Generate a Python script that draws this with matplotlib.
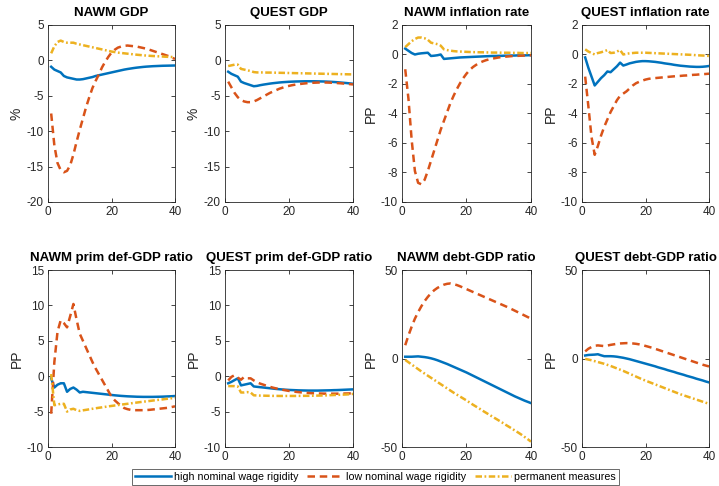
import matplotlib
matplotlib.use("Agg")
import matplotlib.pyplot as plt
import numpy as np

plt.rcParams["font.family"] = ["Liberation Sans", "DejaVu Sans"]
plt.rcParams["axes.unicode_minus"] = False

quarters = list(range(1, 41))

series_names = ["high nominal wage rigidity", "low nominal wage rigidity", "permanent measures"]

panel_titles = ["NAWM GDP", "QUEST GDP", "NAWM inflation rate", "QUEST inflation rate",
                "NAWM prim def-GDP ratio", "QUEST prim def-GDP ratio",
                "NAWM debt-GDP ratio", "QUEST debt-GDP ratio"]
panel_ylabels = ["%", "%", "PP", "PP", "PP", "PP", "PP", "PP"]
panel_yticks = [[-20, -15, -10, -5, 0, 5], [-20, -15, -10, -5, 0, 5],
                [-10, -8, -6, -4, -2, 0, 2], [-10, -8, -6, -4, -2, 0, 2],
                [-10, -5, 0, 5, 10, 15], [-10, -5, 0, 5, 10, 15],
                [-50, 0, 50], [-50, 0, 50]]
xticks = [0, 20, 40]

# NAWM GDP
nawm_gdp_high = [-0.9, -1.3, -1.5, -1.7, -2.2, -2.4, -2.5, -2.6, -2.7, -2.7, -2.65, -2.55, -2.45, -2.35, -2.2,
                 -2.1, -2.0, -1.9, -1.8, -1.7, -1.6, -1.5, -1.4, -1.3, -1.22, -1.15, -1.08, -1.02, -0.97, -0.92,
                 -0.88, -0.85, -0.82, -0.8, -0.78, -0.76, -0.75, -0.74, -0.73, -0.72]
nawm_gdp_low = [-7.5, -12.0, -14.5, -15.5, -15.8, -15.6, -14.8, -13.3, -11.5, -9.8, -8.2, -6.6, -5.2, -3.9, -2.9,
                -2.0, -1.0, -0.2, 0.5, 1.1, 1.5, 1.8, 1.95, 2.05, 2.1, 2.05, 2.0, 1.95, 1.85, 1.75,
                1.65, 1.5, 1.35, 1.2, 1.05, 0.9, 0.75, 0.6, 0.4, 0.2]
nawm_gdp_perm = [1.0, 2.0, 2.6, 2.8, 2.6, 2.5, 2.5, 2.5, 2.35, 2.25, 2.15, 2.05, 1.95, 1.85, 1.75,
                 1.65, 1.55, 1.45, 1.35, 1.25, 1.18, 1.1, 1.05, 1.0, 0.95, 0.9, 0.85, 0.8, 0.76, 0.72,
                 0.68, 0.65, 0.62, 0.6, 0.57, 0.55, 0.52, 0.5, 0.48, 0.45]

# QUEST GDP
quest_gdp_high = [-1.6, -1.9, -2.1, -2.3, -3.0, -3.2, -3.35, -3.5, -3.65, -3.6, -3.5, -3.42, -3.35, -3.28, -3.22,
                  -3.17, -3.12, -3.08, -3.05, -3.02, -3.0, -2.98, -2.97, -2.96, -2.95, -2.95, -2.95, -2.95, -2.96,
                  -2.97, -2.98, -3.0, -3.02, -3.05, -3.08, -3.12, -3.16, -3.2, -3.25, -3.3]
quest_gdp_low = [-3.0, -3.8, -4.6, -5.2, -5.6, -5.8, -5.9, -5.9, -5.8, -5.6, -5.35, -5.1, -4.85, -4.6, -4.4,
                 -4.2, -4.0, -3.85, -3.7, -3.6, -3.5, -3.42, -3.36, -3.3, -3.25, -3.2, -3.17, -3.15, -3.13, -3.12,
                 -3.12, -3.13, -3.15, -3.17, -3.2, -3.23, -3.27, -3.3, -3.35, -3.4]
quest_gdp_perm = [-0.8, -0.7, -0.6, -0.6, -1.2, -1.3, -1.4, -1.5, -1.65, -1.7, -1.7, -1.7, -1.72, -1.72, -1.73,
                  -1.74, -1.75, -1.76, -1.77, -1.78, -1.79, -1.8, -1.81, -1.82, -1.83, -1.84, -1.85, -1.86, -1.87,
                  -1.88, -1.89, -1.9, -1.91, -1.92, -1.93, -1.94, -1.95, -1.96, -1.97, -1.98]

# NAWM inflation rate
nawm_inf_high = [0.4, 0.25, 0.1, 0.0, 0.05, 0.08, 0.1, 0.12, -0.1, -0.08, -0.05, 0.0, -0.3, -0.28, -0.26,
                 -0.24, -0.22, -0.2, -0.19, -0.18, -0.17, -0.16, -0.15, -0.14, -0.13, -0.12, -0.11, -0.1, -0.1,
                 -0.09, -0.09, -0.08, -0.08, -0.07, -0.07, -0.06, -0.06, -0.06, -0.05, -0.05]
nawm_inf_low = [-1.0, -3.0, -5.8, -7.9, -8.7, -8.8, -8.5, -7.9, -7.2, -6.5, -5.8, -5.1, -4.5, -3.9, -3.3,
                -2.8, -2.35, -1.95, -1.6, -1.3, -1.05, -0.85, -0.7, -0.57, -0.47, -0.39, -0.33, -0.28, -0.24, -0.2,
                -0.17, -0.15, -0.13, -0.11, -0.1, -0.09, -0.08, -0.07, -0.06, -0.05]
nawm_inf_perm = [0.5, 0.7, 0.9, 1.05, 1.15, 1.15, 1.1, 1.0, 0.8, 0.75, 0.7, 0.6, 0.35, 0.3, 0.26,
                 0.23, 0.21, 0.2, 0.19, 0.18, 0.17, 0.16, 0.16, 0.15, 0.15, 0.14, 0.14, 0.13, 0.13, 0.13,
                 0.12, 0.12, 0.12, 0.11, 0.11, 0.11, 0.1, 0.1, 0.1, 0.1]

# QUEST inflation rate
quest_inf_high = [-0.2, -0.9, -1.5, -2.1, -1.85, -1.6, -1.4, -1.15, -1.2, -1.0, -0.8, -0.55, -0.75, -0.68, -0.6,
                  -0.55, -0.5, -0.47, -0.45, -0.45, -0.46, -0.48, -0.5, -0.53, -0.56, -0.6, -0.63, -0.66, -0.7,
                  -0.73, -0.76, -0.78, -0.8, -0.82, -0.83, -0.84, -0.84, -0.83, -0.81, -0.78]
quest_inf_low = [-1.5, -3.5, -5.6, -6.8, -6.2, -5.5, -4.9, -4.4, -3.9, -3.5, -3.1, -2.8, -2.65, -2.5, -2.3,
                 -2.1, -1.95, -1.85, -1.77, -1.7, -1.65, -1.62, -1.6, -1.58, -1.56, -1.54, -1.52, -1.5, -1.48,
                 -1.46, -1.45, -1.43, -1.42, -1.4, -1.38, -1.37, -1.35, -1.33, -1.32, -1.3]
quest_inf_perm = [0.35, 0.2, 0.1, 0.0, 0.1, 0.15, 0.22, 0.3, 0.1, 0.12, 0.2, 0.3, 0.0, 0.05, 0.08,
                  0.1, 0.12, 0.12, 0.12, 0.12, 0.11, 0.1, 0.09, 0.08, 0.07, 0.06, 0.05, 0.04, 0.03, 0.02,
                  0.01, 0.0, -0.01, -0.02, -0.03, -0.05, -0.06, -0.07, -0.08, -0.1]

# NAWM primary deficit-to-GDP ratio
nawm_def_high = [-0.3, -1.6, -1.2, -1.0, -1.0, -2.2, -1.8, -1.6, -1.9, -2.3, -2.2, -2.25, -2.3, -2.35, -2.4,
                 -2.45, -2.5, -2.55, -2.6, -2.65, -2.7, -2.74, -2.78, -2.81, -2.84, -2.86, -2.88, -2.9, -2.91,
                 -2.92, -2.92, -2.92, -2.92, -2.91, -2.9, -2.89, -2.87, -2.85, -2.83, -2.8]
nawm_def_low = [-5.3, 2.0, 6.3, 7.9, 7.5, 6.9, 8.5, 10.2, 8.0, 6.0, 5.0, 4.0, 3.0, 2.0, 1.1,
                0.3, -0.5, -1.3, -2.1, -2.9, -3.4, -3.8, -4.2, -4.5, -4.65, -4.75, -4.8, -4.8, -4.8, -4.8,
                -4.78, -4.75, -4.7, -4.65, -4.6, -4.55, -4.5, -4.45, -4.35, -4.25]
nawm_def_perm = [0.3, -4.1, -4.0, -3.9, -3.9, -5.0, -4.7, -4.6, -4.8, -4.9, -4.82, -4.75, -4.68, -4.6, -4.53,
                 -4.46, -4.4, -4.33, -4.26, -4.2, -4.14, -4.08, -4.02, -3.96, -3.9, -3.84, -3.78, -3.72, -3.66,
                 -3.6, -3.55, -3.5, -3.44, -3.38, -3.33, -3.28, -3.22, -3.17, -3.11, -3.05]

# QUEST primary deficit-to-GDP ratio
quest_def_high = [-1.0, -0.8, -0.55, -0.3, -1.3, -1.2, -1.1, -1.0, -1.45, -1.5, -1.55, -1.6, -1.65, -1.7, -1.75,
                  -1.8, -1.84, -1.88, -1.91, -1.94, -1.96, -1.98, -2.0, -2.01, -2.02, -2.03, -2.03, -2.03, -2.03,
                  -2.02, -2.01, -2.0, -1.99, -1.97, -1.96, -1.94, -1.92, -1.9, -1.88, -1.86]
quest_def_low = [-0.6, -0.1, 0.15, -0.2, -0.5, -0.1, -0.3, -0.3, -0.6, -0.85, -1.05, -1.2, -1.35, -1.5, -1.62,
                 -1.73, -1.83, -1.92, -2.0, -2.08, -2.15, -2.2, -2.25, -2.3, -2.34, -2.37, -2.4, -2.42, -2.44,
                 -2.45, -2.46, -2.47, -2.47, -2.47, -2.47, -2.46, -2.45, -2.44, -2.43, -2.42]
quest_def_perm = [-1.4, -1.4, -1.4, -1.45, -2.3, -2.3, -2.25, -2.3, -2.7, -2.72, -2.74, -2.75, -2.76, -2.77, -2.78,
                  -2.78, -2.79, -2.79, -2.79, -2.79, -2.79, -2.79, -2.78, -2.78, -2.77, -2.77, -2.76, -2.75, -2.74,
                  -2.73, -2.72, -2.7, -2.68, -2.66, -2.64, -2.62, -2.6, -2.58, -2.55, -2.5]

# NAWM debt-to-GDP ratio
nawm_debt_high = [1.0, 1.0, 1.0, 1.1, 1.2, 1.0, 0.8, 0.5, 0.1, -0.4, -1.0, -1.7, -2.4, -3.1, -3.9,
                  -4.7, -5.5, -6.3, -7.1, -7.9, -8.8, -9.7, -10.6, -11.5, -12.4, -13.3, -14.2, -15.1, -16.0,
                  -16.9, -17.8, -18.7, -19.6, -20.5, -21.4, -22.2, -23.0, -23.8, -24.5, -25.2]
nawm_debt_low = [7.5, 13.0, 18.0, 22.5, 26.2, 29.5, 32.4, 34.8, 36.9, 38.6, 39.9, 40.9, 41.7, 42.2, 42.4,
                 42.0, 41.5, 40.8, 40.0, 39.2, 38.4, 37.6, 36.8, 36.0, 35.2, 34.4, 33.6, 32.8, 32.0, 31.2,
                 30.4, 29.6, 28.8, 27.9, 27.0, 26.1, 25.2, 24.3, 23.4, 22.5]
nawm_debt_perm = [-0.8, -2.1, -3.4, -4.7, -6.0, -7.3, -8.5, -9.7, -10.9, -12.1, -13.3, -14.5, -15.7, -16.9, -18.1,
                  -19.3, -20.4, -21.5, -22.6, -23.7, -24.9, -26.1, -27.2, -28.3, -29.5, -30.6, -31.7, -32.8,
                  -33.9, -35.0, -36.1, -37.3, -38.4, -39.5, -40.7, -41.8, -43.0, -44.3, -45.6, -47.0]

# QUEST debt-to-GDP ratio
quest_debt_high = [1.7, 2.0, 2.1, 2.2, 2.4, 1.8, 1.3, 1.3, 1.3, 1.2, 1.0, 0.7, 0.4, 0.0, -0.4,
                   -0.9, -1.4, -1.9, -2.4, -2.9, -3.4, -3.9, -4.4, -5.0, -5.5, -6.0, -6.6, -7.1, -7.6,
                   -8.2, -8.7, -9.2, -9.8, -10.3, -10.8, -11.4, -11.9, -12.4, -13.0, -13.5]
quest_debt_low = [4.0, 5.5, 6.5, 7.2, 7.4, 7.2, 7.0, 7.3, 7.7, 8.0, 8.3, 8.5, 8.6, 8.7, 8.6,
                  8.5, 8.3, 8.0, 7.6, 7.1, 6.6, 6.1, 5.5, 4.9, 4.3, 3.7, 3.1, 2.5, 1.9,
                  1.3, 0.7, 0.1, -0.5, -1.1, -1.7, -2.3, -2.9, -3.5, -4.0, -4.5]
quest_debt_perm = [-0.2, -0.6, -1.0, -1.5, -2.0, -2.5, -3.0, -3.6, -4.2, -4.9, -5.6, -6.3, -7.0, -7.8, -8.6,
                   -9.4, -10.2, -11.0, -11.8, -12.5, -13.2, -13.9, -14.6, -15.3, -16.0, -16.7, -17.4, -18.1,
                   -18.8, -19.5, -20.2, -20.8, -21.4, -22.0, -22.6, -23.2, -23.8, -24.4, -25.0, -25.6]

panels = [
    (nawm_gdp_high, nawm_gdp_low, nawm_gdp_perm),
    (quest_gdp_high, quest_gdp_low, quest_gdp_perm),
    (nawm_inf_high, nawm_inf_low, nawm_inf_perm),
    (quest_inf_high, quest_inf_low, quest_inf_perm),
    (nawm_def_high, nawm_def_low, nawm_def_perm),
    (quest_def_high, quest_def_low, quest_def_perm),
    (nawm_debt_high, nawm_debt_low, nawm_debt_perm),
    (quest_debt_high, quest_debt_low, quest_debt_perm),
]

colors = ["#0072BD", "#D95319", "#EDB120"]
lw = 1.8
styles = ["-", (0, (3.0, 1.9)), (0, (2.6, 1.0, 0.7, 1.0))]

fig = plt.figure(figsize=(7.19, 4.86), dpi=100)
W, H = 719.0, 486.0
col_px = [(48, 175), (225, 353), (402, 531), (582, 709)]
row_px = [(25, 202), (270, 447)]

axis_grey = "#262626"
for i, (data, title, ylab, yt) in enumerate(zip(panels, panel_titles, panel_ylabels, panel_yticks)):
    r, c = divmod(i, 4)
    x0, x1 = col_px[c]
    y0, y1 = row_px[r]
    ax = fig.add_axes([x0 / W, 1 - y1 / H, (x1 - x0) / W, (y1 - y0) / H])
    for vals, col, ls in zip(data, colors, styles):
        ax.plot(quarters, vals, color=col, lw=lw, linestyle=ls)
    ax.set_xlim(0, 40)
    ax.set_ylim(yt[0], yt[-1])
    ax.set_xticks(xticks)
    ax.set_yticks(yt)
    ax.set_yticklabels([str(v) for v in yt])
    ax.tick_params(direction="in", top=True, right=True, length=3, width=0.6,
                   labelsize=8.5, colors=axis_grey, pad=3)
    for sp in ax.spines.values():
        sp.set_color(axis_grey)
        sp.set_linewidth(0.6)
    ax.set_title(title, fontsize=9.5, fontweight="bold", pad=6.5, color="black")
    ax.set_ylabel(ylab, fontsize=10, color=axis_grey, labelpad=2)

handles = [plt.Line2D([], [], color=c, lw=lw, linestyle=s) for c, s in zip(colors, styles)]
leg = fig.legend(handles, series_names, loc="lower center", bbox_to_anchor=(0.522, 0.002),
                 ncol=3, fontsize=7.7, frameon=True, fancybox=False, handlelength=3.4,
                 handletextpad=0.3, columnspacing=0.75, borderpad=0.3, borderaxespad=0.0)
leg.get_frame().set_edgecolor(axis_grey)
leg.get_frame().set_linewidth(0.6)
for t in leg.get_texts():
    t.set_color("black")

fig.savefig("out.png", dpi=100)
